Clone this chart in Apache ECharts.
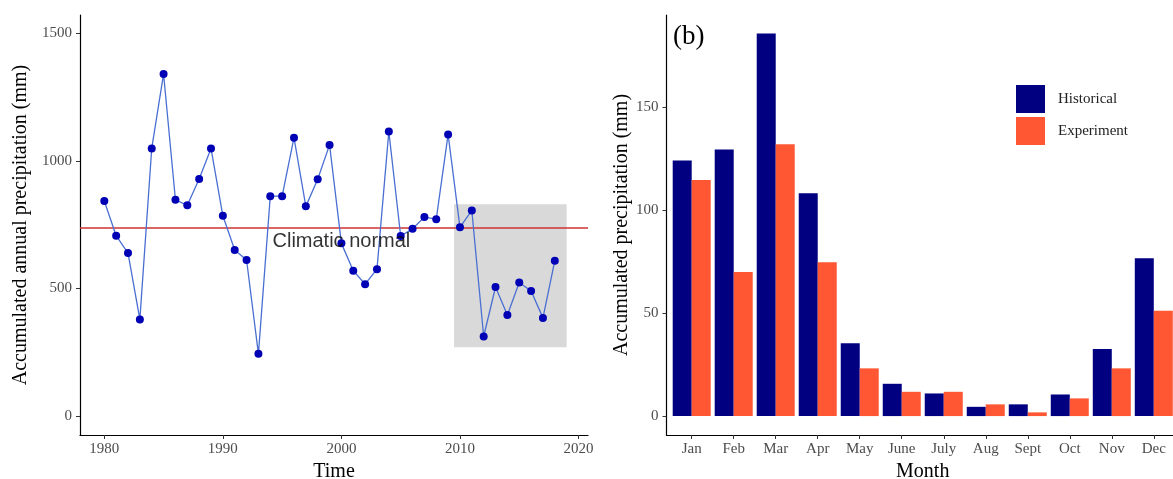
<!DOCTYPE html>
<html>
<head>
<meta charset="utf-8">
<script src="https://cdn.jsdelivr.net/npm/echarts@6/dist/echarts.min.js"></script>
<style>
  html, body { margin: 0; padding: 0; background: #fff; overflow: hidden; }
  #main { width: 1173px; height: 479px; }
</style>
</head>
<body>
<div id="main"></div>
<script>
// panel (a): yearly totals
var years = [1980, 1981, 1982, 1983, 1984, 1985, 1986, 1987, 1988, 1989,
  1990, 1991, 1992, 1993, 1994, 1995, 1996, 1997, 1998, 1999,
  2000, 2001, 2002, 2003, 2004, 2005, 2006, 2007, 2008, 2009,
  2010, 2011, 2012, 2013, 2014, 2015, 2016, 2017, 2018];
var annualPrecip = [843, 707, 639, 379, 1049, 1341, 848, 826, 929, 1049,
  785, 651, 612, 244, 862, 862, 1091, 822, 928, 1063,
  677, 570, 517, 576, 1115, 706, 734, 780, 772, 1104,
  740, 806, 312, 506, 396, 524, 490, 385, 609];
var climaticNormal = 740;
var shadeYears = [2009.5, 2019];
var shadeRange = [270, 830];
var yearTicks = [1980, 1990, 2000, 2010, 2020];
var annualTicks = [0, 500, 1000, 1500];

// panel (b): monthly totals
var months = ['Jan', 'Feb', 'Mar', 'Apr', 'May', 'June', 'July', 'Aug', 'Sept', 'Oct', 'Nov', 'Dec'];
var historical = [124.2, 129.6, 186, 108.3, 35.4, 15.7, 11.0, 4.5, 5.7, 10.5, 32.6, 76.7];
var experiment = [114.8, 70.1, 132.2, 74.8, 23.2, 11.8, 11.8, 5.7, 1.8, 8.6, 23.2, 51.2];
var monthTicks = [0, 50, 100, 150];

var serif = '"Liberation Serif", "DejaVu Serif", serif';
var tickGrey = '#4d4d4d';

var lineData = years.map(function (y, i) { return [y, annualPrecip[i]]; });
var histData = historical.map(function (v, i) { return [i, v]; });
var expData = experiment.map(function (v, i) { return [i, v]; });
var monthIdx = months.map(function (m, i) { return i; });

var chart = echarts.init(document.getElementById('main'), null, { width: 1173, height: 479 });

function axisStyle(ticks) {
  return {
    axisLine: { show: true, onZero: false, lineStyle: { color: '#000', width: 1.2 } },
    axisTick: { show: true, length: 4, customValues: ticks, lineStyle: { color: '#333' } },
    splitLine: { show: false }
  };
}

function plain(v) { return String(v); }

var x0 = axisStyle(yearTicks);
var y0 = axisStyle(annualTicks);
var x1 = axisStyle(monthIdx);
var y1 = axisStyle(monthTicks);

chart.setOption({
  animation: false,
  legend: {
    data: ['Historical', 'Experiment'],
    orient: 'vertical',
    left: 1011,
    top: 80,
    itemWidth: 29,
    itemHeight: 28,
    itemGap: 4,
    icon: 'rect',
    textStyle: { fontFamily: serif, fontSize: 15, color: '#222', padding: [0, 0, 0, 8] }
  },
  title: {
    text: '(b)',
    left: 668,
    top: 18,
    textStyle: { fontFamily: serif, fontSize: 27, fontWeight: 'normal', color: '#000' }
  },
  grid: [
    { left: 80, right: 585, top: 15, bottom: 44, outerBoundsMode: 'none', containLabel: false },
    { left: 666.5, width: 512.5, top: 15, bottom: 44, outerBoundsMode: 'none', containLabel: false }
  ],
  xAxis: [
    Object.assign(x0, {
      gridIndex: 0, type: 'value', min: 1977.95, max: 2020.8,
      name: 'Time', nameLocation: 'middle', nameGap: 25,
      nameTextStyle: { fontFamily: serif, fontSize: 20, color: '#000' },
      axisLabel: { customValues: yearTicks, formatter: plain, margin: 7, fontFamily: serif, fontSize: 15, color: tickGrey }
    }),
    Object.assign(x1, {
      gridIndex: 1, type: 'value', min: -0.6, max: 11.6,
      name: 'Month', nameLocation: 'middle', nameGap: 26,
      nameTextStyle: { fontFamily: serif, fontSize: 20, color: '#000' },
      axisLabel: {
        customValues: monthIdx, margin: 7, fontFamily: serif, fontSize: 15, color: tickGrey,
        formatter: function (v) { return months[Math.round(v)]; }
      }
    })
  ],
  yAxis: [
    Object.assign(y0, {
      gridIndex: 0, type: 'value', min: -74, max: 1572,
      name: 'Accumulated annual precipitation (mm)', nameLocation: 'middle', nameGap: 49,
      nameTextStyle: { fontFamily: serif, fontSize: 20, color: '#000' },
      axisLabel: { customValues: annualTicks, formatter: plain, margin: 8, fontFamily: serif, fontSize: 15, color: tickGrey }
    }),
    Object.assign(y1, {
      gridIndex: 1, type: 'value', min: -9.2, max: 195,
      name: 'Accumulated precipitation (mm)', nameLocation: 'middle', nameGap: 35,
      nameTextStyle: { fontFamily: serif, fontSize: 20, color: '#000' },
      axisLabel: { customValues: monthTicks, formatter: plain, margin: 8, fontFamily: serif, fontSize: 15, color: tickGrey }
    })
  ],
  series: [
    {
      name: 'annual',
      type: 'line',
      xAxisIndex: 0,
      yAxisIndex: 0,
      data: lineData,
      symbol: 'circle',
      symbolSize: 8,
      z: 5,
      lineStyle: { color: '#4a6fd3', width: 1.3 },
      itemStyle: { color: '#0000b5' },
      markArea: {
        silent: true,
        itemStyle: { color: '#d9d9d9' },
        data: [[{ coord: [shadeYears[0], shadeRange[0]] }, { coord: [shadeYears[1], shadeRange[1]] }]]
      },
      markLine: {
        silent: true,
        symbol: 'none',
        lineStyle: { color: '#cc3333', type: 'solid', width: 1.6 },
        label: { show: false },
        data: [{ yAxis: climaticNormal }]
      }
    },
    {
      name: 'normalLabel',
      type: 'scatter',
      xAxisIndex: 0,
      yAxisIndex: 0,
      symbolSize: 0,
      z: 6,
      data: [[2000, 685]],
      label: {
        show: true,
        position: 'inside',
        formatter: 'Climatic normal',
        fontFamily: '"Liberation Sans", Arial, sans-serif',
        fontSize: 20,
        color: '#000'
      }
    },
    {
      name: 'Historical',
      type: 'bar',
      xAxisIndex: 1,
      yAxisIndex: 1,
      data: histData,
      barWidth: 19,
      barGap: '0%',
      itemStyle: { color: '#000080' }
    },
    {
      name: 'Experiment',
      type: 'bar',
      xAxisIndex: 1,
      yAxisIndex: 1,
      data: expData,
      barWidth: 19,
      barGap: '0%',
      itemStyle: { color: '#ff5733' }
    }
  ]
});
</script>
</body>
</html>
